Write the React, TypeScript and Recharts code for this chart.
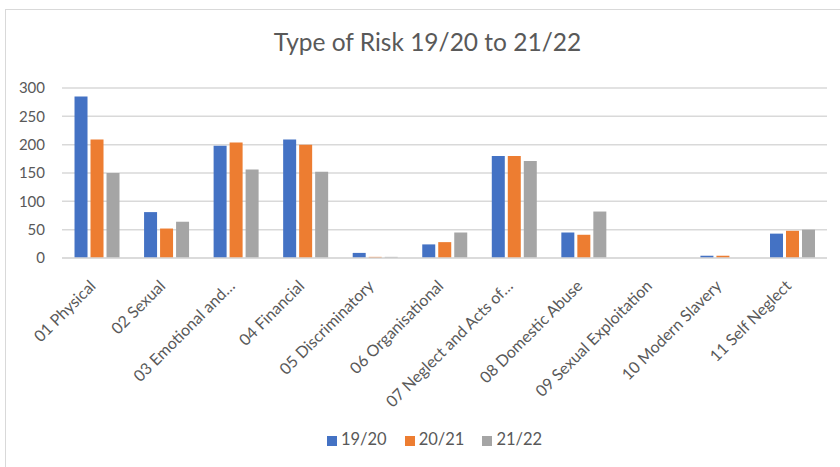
import { BarChart, Bar, XAxis, YAxis, CartesianGrid, Legend } from "recharts"

const categories = [
  "01 Physical",
  "02 Sexual",
  "03 Emotional and…",
  "04 Financial",
  "05 Discriminatory",
  "06 Organisational",
  "07 Neglect and Acts of…",
  "08 Domestic Abuse",
  "09 Sexual Exploitation",
  "10 Modern Slavery",
  "11 Self Neglect",
]

const y1920 = [285, 81, 198, 209, 9, 24, 180, 45, 0, 4, 43]
const y2021 = [209, 52, 204, 200, 2, 28, 180, 41, 0, 4, 48]
const y2122 = [150, 64, 156, 152, 2, 45, 171, 82, 0, 0, 50]

const yTicks = [0, 50, 100, 150, 200, 250, 300]

const FONT = "Lato, 'Open Sans', sans-serif"
const TEXT = "#595959"

const chartData = categories.map((name, i) => ({
  name,
  "19/20": y1920[i],
  "20/21": y2021[i],
  "21/22": y2122[i],
}))

function AngledTick(props: any) {
  const { x, y, payload } = props
  return (
    <g transform={`translate(${x},${y + 21})`}>
      <text
        x={0}
        y={0}
        textAnchor="end"
        transform="rotate(-45)"
        fill={TEXT}
        fontSize={16}
        fontFamily={FONT}
      >
        {payload.value}
      </text>
    </g>
  )
}

export default function App() {
  return (
    <div style={{ position: "absolute", left: 0, top: 0, width: 840, height: 467, background: "#fff", overflow: "hidden" }}>
      <div
        style={{
          position: "absolute",
          left: 5,
          top: 9,
          width: 860,
          height: 480,
          border: "1.5px solid #d9d9d9",
        }}
      />
      <div
        style={{
          position: "absolute",
          left: 0,
          top: 27,
          width: 855,
          textAlign: "center",
          fontFamily: FONT,
          fontSize: 24.5,
          color: TEXT,
        }}
      >
        Type of Risk 19/20 to 21/22
      </div>
      <div style={{ position: "absolute", left: 0, top: 0 }}>
        <BarChart
          width={840}
          height={467}
          data={chartData}
          margin={{ top: 88, right: 13, bottom: 18, left: 0 }}
          barCategoryGap="18%"
          barGap={3}
        >
          <CartesianGrid vertical={false} stroke="#d9d9d9" strokeWidth={1.5} />
          <XAxis
            dataKey="name"
            interval={0}
            height={171}
            tick={<AngledTick />}
            tickLine={false}
            axisLine={{ stroke: "#d9d9d9", strokeWidth: 1.5 }}
          />
          <YAxis
            width={62}
            domain={[0, 300]}
            ticks={yTicks}
            tickLine={false}
            axisLine={false}
            tickMargin={11}
            tick={{ fill: TEXT, fontSize: 15, fontFamily: FONT }}
          />
          <Legend
            verticalAlign="bottom"
            align="center"
            iconType="square"
            iconSize={10}
            wrapperStyle={{ paddingLeft: 30 }}
            formatter={(v: string) => (
              <span style={{ color: TEXT, fontSize: 16.5, fontFamily: FONT, marginRight: 8 }}>{v}</span>
            )}
          />
          <Bar dataKey="19/20" fill="#4472C4" isAnimationActive={false} />
          <Bar dataKey="20/21" fill="#ED7D31" isAnimationActive={false} />
          <Bar dataKey="21/22" fill="#A5A5A5" isAnimationActive={false} />
        </BarChart>
      </div>
    </div>
  )
}
